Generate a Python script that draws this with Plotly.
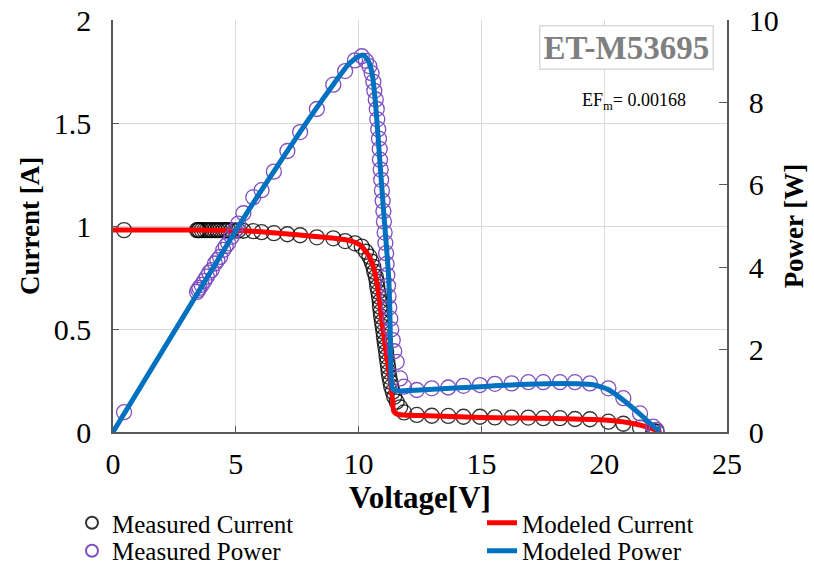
import plotly.graph_objects as go

meas_v = [0.45, 3.42, 3.47, 3.52, 3.61, 3.72, 3.82, 3.92, 4.02, 4.15, 4.25, 4.36, 4.49, 4.59, 4.69,
          4.83, 4.97, 5.10, 5.31, 5.71, 6.05, 6.55, 7.10, 7.62, 8.30, 8.97, 9.45, 9.85, 10.13, 10.30,
          10.44, 10.53, 10.60, 10.64, 10.70, 10.74, 10.76, 10.80, 10.83, 10.86, 10.87, 10.90, 10.92,
          10.95, 10.98, 11.01, 11.03, 11.06, 11.09, 11.12, 11.14, 11.17, 11.20, 11.22, 11.25, 11.29,
          11.33, 11.39, 11.45, 11.55, 11.69, 11.85, 12.37, 12.98, 13.65, 14.27, 14.94, 15.55, 16.23,
          16.91, 17.52, 18.20, 18.81, 19.42, 20.17, 20.78, 21.46, 22.00, 22.13]
meas_i = [0.98, 0.98, 0.98, 0.98, 0.98, 0.98, 0.98, 0.98, 0.98, 0.98, 0.98, 0.98, 0.98, 0.98, 0.98,
          0.98, 0.978, 0.978, 0.977, 0.975, 0.97, 0.965, 0.96, 0.955, 0.945, 0.94, 0.927, 0.916, 0.90, 0.875,
          0.851, 0.827, 0.802, 0.778, 0.754, 0.730, 0.705, 0.681, 0.657, 0.633, 0.608, 0.584, 0.560,
          0.535, 0.511, 0.487, 0.463, 0.438, 0.414, 0.390, 0.366, 0.341, 0.317, 0.293, 0.268, 0.244,
          0.220, 0.196, 0.171, 0.147, 0.120, 0.095, 0.083, 0.079, 0.078, 0.074, 0.074, 0.071, 0.070,
          0.070, 0.067, 0.067, 0.063, 0.062, 0.050, 0.040, 0.021, 0.004, 0.002]
meas_p = [0.48, 3.40, 3.45, 3.50, 3.57, 3.67, 3.77, 3.87, 3.93, 4.09, 4.17, 4.25, 4.42, 4.51, 4.58,
          4.74, 4.90, 5.06, 5.31, 5.70, 5.87, 6.32, 6.82, 7.28, 7.84, 8.43, 8.76, 9.02, 9.12, 9.01,
          8.88, 8.71, 8.50, 8.28, 8.07, 7.84, 7.59, 7.35, 7.12, 6.87, 6.61, 6.37, 6.12,
          5.86, 5.61, 5.36, 5.11, 4.84, 4.59, 4.34, 4.08, 3.81, 3.55, 3.29, 3.02, 2.75,
          2.49, 2.23, 1.96, 1.70, 1.30, 1.10, 1.02, 1.06, 1.08, 1.12, 1.14, 1.17, 1.18,
          1.21, 1.21, 1.21, 1.21, 1.18, 1.06, 0.82, 0.45, 0.13, 0.05]

# Modeled curves
mod_i_v = [0, 3, 5, 6, 7, 8, 9, 9.6, 10.0, 10.13, 10.3, 10.44, 10.6, 10.7, 10.8, 10.9, 11.0, 11.1,
           11.2, 11.3, 11.38, 11.43, 11.55, 11.8, 12.5, 15, 18, 20, 21, 21.7, 22.3]
mod_i = [0.98, 0.98, 0.978, 0.972, 0.962, 0.952, 0.94, 0.93, 0.912, 0.90, 0.875, 0.851, 0.80, 0.754,
         0.681, 0.584, 0.49, 0.405, 0.317, 0.24, 0.16, 0.10, 0.088, 0.083, 0.08, 0.07, 0.065, 0.058,
         0.045, 0.026, 0.0]
mod_p_v = [0, 5, 6, 7, 8, 9, 9.6, 10.0, 10.2, 10.4, 10.55, 10.7, 10.85, 11.0, 11.12, 11.22, 11.27, 11.3,
           11.33, 11.4, 11.5, 12.5, 14.94, 16.9, 18.9, 19.6, 20.2, 20.85, 21.5, 22.1, 22.27]
mod_p = [0, 4.89, 5.83, 6.73, 7.62, 8.46, 8.93, 9.12, 9.15, 9.0, 8.7, 7.9, 6.7, 5.5, 4.6, 3.8, 3.0, 2.0,
         1.2, 1.03, 1.0, 1.02, 1.10, 1.16, 1.17, 1.14, 1.02, 0.74, 0.41, 0.09, 0.03]

x_ticks = [0, 5, 10, 15, 20, 25]
y_ticks = [0, 0.5, 1, 1.5, 2]
y2_ticks = [0, 2, 4, 6, 8, 10]

FONT = "Liberation Serif"
axis_col = "#595959"

fig = go.Figure()
fig.add_trace(go.Scatter(x=meas_v, y=meas_i, mode="markers", name="Measured Current",
                         legend="legend",
                         marker=dict(symbol="circle-open", size=15, color="rgba(0,0,0,0.8)",
                                     line=dict(width=1.3))))
fig.add_trace(go.Scatter(x=meas_v, y=meas_p, mode="markers", name="Measured Power", yaxis="y2",
                         legend="legend2",
                         marker=dict(symbol="circle-open", size=15, color="#7F4FC0",
                                     line=dict(width=1.3))))
fig.add_trace(go.Scatter(x=mod_i_v, y=mod_i, mode="lines", name="Modeled Current",
                         legend="legend3",
                         line=dict(color="#FF0000", width=5, shape="spline", smoothing=0.5)))
fig.add_trace(go.Scatter(x=mod_p_v, y=mod_p, mode="lines", name="Modeled Power", yaxis="y2",
                         legend="legend4",
                         line=dict(color="#0070C0", width=5, shape="spline", smoothing=0.5)))

leg_common = dict(orientation="v", xanchor="left", yanchor="middle",
                  font=dict(size=25, family=FONT, color="black"), itemsizing="constant",
                  bgcolor="rgba(0,0,0,0)", borderwidth=0)
row1 = -0.2209   # ~523 px
row2 = -0.2888   # ~551 px
colA = -0.0668
colB = 0.601

fig.update_layout(
    width=814, height=573,
    margin=dict(l=113, r=87, t=20, b=141, autoexpand=False),
    paper_bgcolor="white", plot_bgcolor="white",
    font=dict(family=FONT, color="black", size=24),
    showlegend=True,
    legend=dict(x=colA, y=row1, **leg_common),
    legend2=dict(x=colA, y=row2, **leg_common),
    legend3=dict(x=colB, y=row1, **leg_common),
    legend4=dict(x=colB, y=row2, **leg_common),
    xaxis=dict(range=[0, 25], tickvals=x_ticks, showgrid=True, gridcolor="#d9d9d9", gridwidth=1,
               zeroline=False, showline=True, linecolor=axis_col, linewidth=1.5,
               ticks="inside", ticklen=6, tickcolor=axis_col, tickfont=dict(size=30),
               ticklabelstandoff=4,
               title=dict(text="<b>Voltage[V]</b>", font=dict(size=31), standoff=5)),
    yaxis=dict(range=[0, 2], tickvals=y_ticks, showgrid=True, gridcolor="#d9d9d9", gridwidth=1,
               zeroline=False, showline=True, linecolor=axis_col, linewidth=1.5,
               ticks="inside", ticklen=6, tickcolor=axis_col, tickfont=dict(size=30),
               ticklabelstandoff=14,
               title=dict(text="<b>Current [A]</b>", font=dict(size=27), standoff=6)),
    yaxis2=dict(range=[0, 10], tickvals=y2_ticks, overlaying="y", side="right", showgrid=False,
                zeroline=False, showline=True, linecolor=axis_col, linewidth=1.5,
                ticks="inside", ticklen=8, tickcolor=axis_col, tickfont=dict(size=30),
                ticklabelstandoff=14,
                title=dict(text="<b>Power [W]</b>", font=dict(size=27), standoff=6)),
    annotations=[
        dict(text="<b>ET-M53695</b>", xref="paper", yref="paper", x=0.837, y=0.934,
             xanchor="center", yanchor="middle", showarrow=False,
             font=dict(size=33, color="#7f7f7f", family=FONT),
             bordercolor="#d9d9d9", borderwidth=1.5, borderpad=3, bgcolor="white"),
        dict(text="EF<sub>m</sub>= 0.00168", xref="paper", yref="paper", x=0.849, y=0.803,
             xanchor="center", yanchor="middle", showarrow=False,
             font=dict(size=18, color="black", family=FONT)),
    ],
)

fig.write_html("out.html")
